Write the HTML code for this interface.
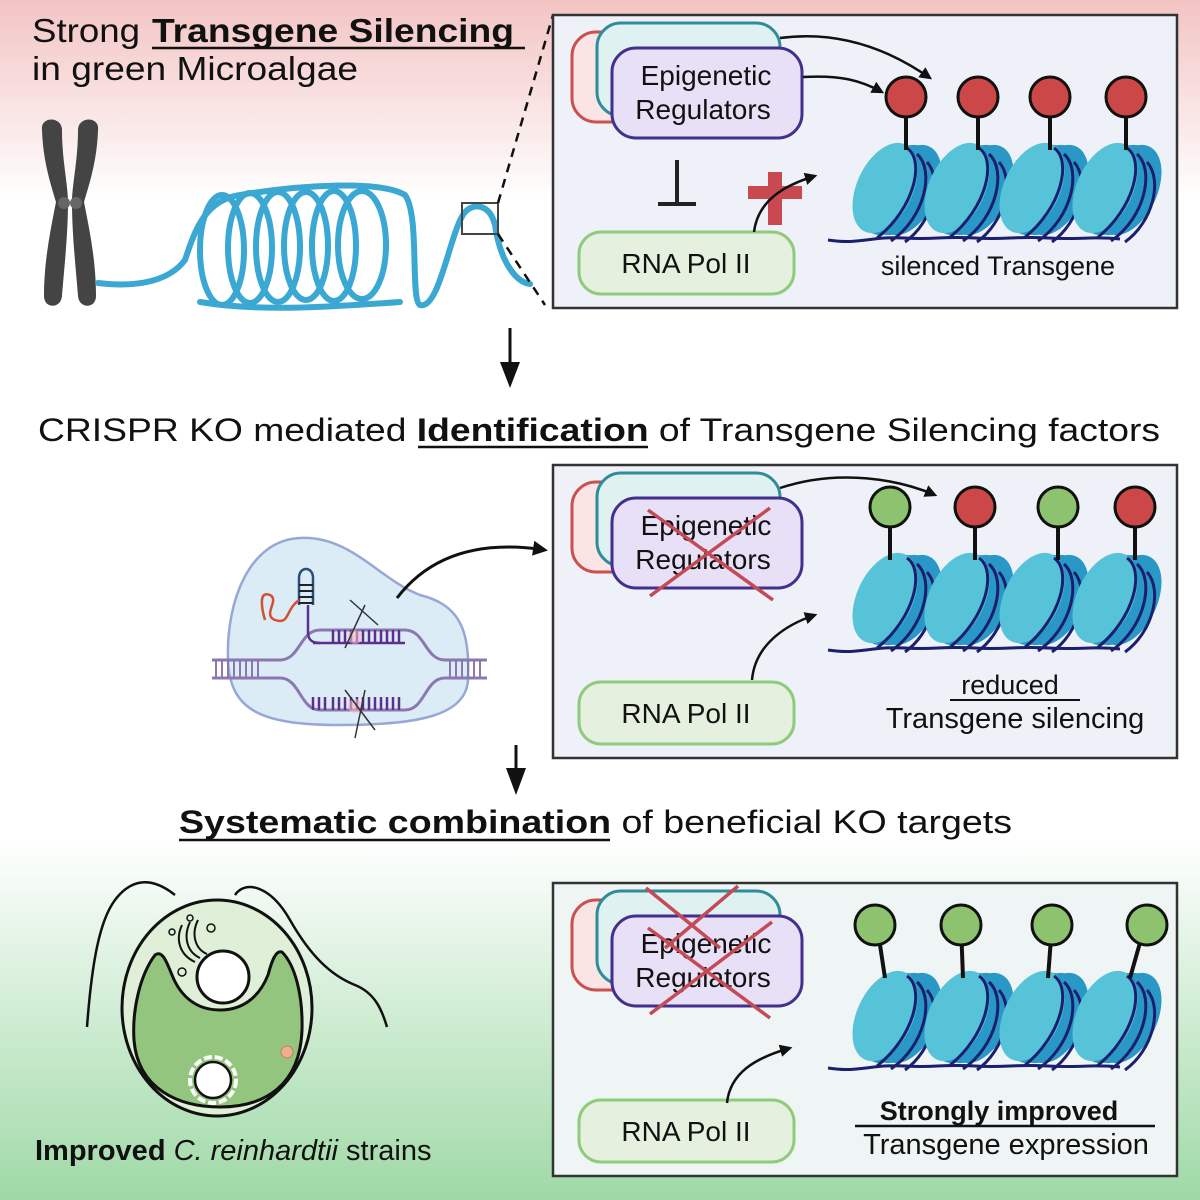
<!DOCTYPE html>
<html><head><meta charset="utf-8"><style>
html,body{margin:0;padding:0;}
svg{display:block;}
text{font-family:"Liberation Sans",sans-serif;fill:#111;}
</style></head><body>
<svg width="1200" height="1200" viewBox="0 0 1200 1200" xmlns="http://www.w3.org/2000/svg">
<defs>
<linearGradient id="gtop" x1="0" y1="0" x2="0" y2="1">
<stop offset="0" stop-color="#f3c4c4"/><stop offset="1" stop-color="#ffffff"/></linearGradient>
<linearGradient id="gbot" x1="0" y1="0" x2="0" y2="1">
<stop offset="0" stop-color="#ffffff"/><stop offset="1" stop-color="#9fd9a6"/></linearGradient>
<marker id="ah" viewBox="0 0 10 10" refX="8" refY="5" markerWidth="5" markerHeight="5" orient="auto"><path d="M0,0 L10,5 L0,10 z" fill="#111"/></marker>
<g id="nuc">
<ellipse cx="24" cy="2" rx="28" ry="48" transform="rotate(25 24 2)" fill="#2a98c6"/>
<ellipse cx="16" cy="2" rx="28" ry="48" transform="rotate(25 16 2)" fill="#2a98c6"/>
<ellipse cx="8" cy="2" rx="28" ry="48" transform="rotate(25 8 2)" fill="#2a98c6"/>
<ellipse cx="0" cy="0" rx="28" ry="48" transform="rotate(25)" fill="#56c3d9"/>
<path d="M22,-40 C40,-28 30,20 -8,50" stroke="#1c1f6e" stroke-width="3" fill="none"/>
<path d="M32,-34 C50,-18 40,30 6,53" stroke="#1c1f6e" stroke-width="3" fill="none"/>
<path d="M42,-26 C58,-8 48,34 20,54" stroke="#1c1f6e" stroke-width="3" fill="none"/>
</g>
<g id="regs">
<rect x="572" y="32" width="120" height="90" rx="24" fill="#fbe4e4" stroke="#c9504f" stroke-width="3"/>
<rect x="597" y="23" width="183" height="93" rx="24" fill="#dff1f1" stroke="#2f8d9a" stroke-width="3"/>
<rect x="612" y="48" width="190" height="90" rx="24" fill="#e7e0f6" stroke="#43308d" stroke-width="3"/>
<text x="706" y="85" font-size="28" text-anchor="middle">Epigenetic</text>
<text x="703" y="119" font-size="28" text-anchor="middle">Regulators</text>
</g>
<g id="pol">
<rect x="579" y="232" width="215" height="62" rx="22" fill="#e6f0de" stroke="#8fcb7c" stroke-width="3"/>
<text x="686" y="273" font-size="28" text-anchor="middle">RNA Pol II</text>
</g>
<g id="chrom">
<path d="M828,240 C860,245 870,236 905,238 C935,240 940,236 975,238 C1005,240 1015,236 1048,238 C1080,240 1090,236 1120,239" stroke="#1c1f6e" stroke-width="3" fill="none"/>
<use href="#nuc" x="885" y="188"/>
<use href="#nuc" x="957" y="188"/>
<use href="#nuc" x="1032" y="188"/>
<use href="#nuc" x="1105" y="188"/>
</g>
</defs>

<rect x="0" y="0" width="1200" height="1200" fill="#fff"/>
<rect x="0" y="0" width="1200" height="200" fill="url(#gtop)"/>
<rect x="0" y="840" width="1200" height="360" fill="url(#gbot)"/>

<text x="32" y="42" font-size="33" textLength="108" lengthAdjust="spacingAndGlyphs">Strong</text>
<text x="152" y="42" font-size="33" font-weight="bold" textLength="362" lengthAdjust="spacingAndGlyphs">Transgene Silencing</text>
<line x1="152" y1="48" x2="525" y2="48" stroke="#111" stroke-width="2.5"/>
<text x="32" y="80" font-size="33" textLength="326" lengthAdjust="spacingAndGlyphs">in green Microalgae</text>

<g fill="#444">
<path d="M42,130 C40,116 62,116 62,130 C62,160 68,185 68,202 C68,235 64,270 62,296 C61,309 44,309 44,296 C44,262 50,232 56,202 C50,182 43,160 42,130 z"/>
<path d="M98,130 C100,116 78,116 78,130 C78,160 72,185 72,202 C72,235 76,270 78,296 C79,309 96,309 96,296 C96,262 90,232 84,202 C90,182 97,160 98,130 z"/>
</g>
<circle cx="64" cy="203" r="6" fill="#666"/><circle cx="76" cy="203" r="6" fill="#666"/>

<g fill="none" stroke="#3aa8d2" stroke-width="6" stroke-linecap="round">
<path d="M98,283 C140,288 170,280 185,260 C195,230 205,200 240,195 C300,185 380,180 405,195 C420,215 410,300 420,305 C440,310 450,230 465,212 C475,202 490,205 495,225 C500,260 515,282 530,284"/>
<ellipse cx="222" cy="250" rx="22" ry="55"/>
<ellipse cx="250" cy="248" rx="22" ry="55"/>
<ellipse cx="278" cy="247" rx="22" ry="55"/>
<ellipse cx="306" cy="246" rx="22" ry="54"/>
<ellipse cx="334" cy="246" rx="22" ry="55"/>
<ellipse cx="362" cy="245" rx="24" ry="54"/>
<path d="M200,302 C260,312 330,307 400,302"/>
</g>
<rect x="462" y="203" width="36" height="31" fill="none" stroke="#444" stroke-width="2"/>
<line x1="498" y1="203" x2="553" y2="15" stroke="#111" stroke-width="2.5" stroke-dasharray="9 7"/>
<line x1="498" y1="234" x2="545" y2="305" stroke="#111" stroke-width="2.5" stroke-dasharray="9 7"/>

<!-- Box 1 -->
<rect x="553" y="15" width="624" height="293" fill="#eef1f7" stroke="#333" stroke-width="2.5"/>
<use href="#regs"/>
<use href="#pol"/>
<use href="#chrom"/>
<g stroke="#111" stroke-width="4">
<line x1="906" y1="97" x2="906" y2="150"/><line x1="978" y1="97" x2="978" y2="150"/>
<line x1="1050" y1="97" x2="1050" y2="150"/><line x1="1126" y1="97" x2="1126" y2="150"/></g>
<circle cx="906" cy="97" r="20" fill="#cc4848" stroke="#111" stroke-width="3"/>
<circle cx="978" cy="97" r="20" fill="#cc4848" stroke="#111" stroke-width="3"/>
<circle cx="1050" cy="97" r="20" fill="#cc4848" stroke="#111" stroke-width="3"/>
<circle cx="1126" cy="97" r="20" fill="#cc4848" stroke="#111" stroke-width="3"/>
<path d="M780,38 C840,30 890,50 930,78" stroke="#111" stroke-width="2.5" fill="none" marker-end="url(#ah)"/>
<path d="M803,77 C840,75 860,80 882,92" stroke="#111" stroke-width="2.5" fill="none" marker-end="url(#ah)"/>
<line x1="677" y1="160" x2="677" y2="204" stroke="#222" stroke-width="4"/>
<line x1="658" y1="204" x2="696" y2="204" stroke="#222" stroke-width="4"/>
<path d="M768,172 h14 v14 h20 v13 h-20 v26 h-14 v-26 h-20 v-13 h20 z" fill="#c84a50"/>
<path d="M754,232 C758,200 785,185 815,176" stroke="#111" stroke-width="2.5" fill="none" marker-end="url(#ah)"/>
<text x="998" y="275" font-size="27" text-anchor="middle">silenced Transgene</text>

<line x1="510" y1="328" x2="510" y2="365" stroke="#111" stroke-width="3"/>
<path d="M500,362 L520,362 L510,388 z" fill="#111"/>

<text x="38" y="441" font-size="32" textLength="1122" lengthAdjust="spacingAndGlyphs">CRISPR KO mediated <tspan font-weight="bold">Identification</tspan> of Transgene Silencing factors</text>
<line x1="418" y1="447" x2="648" y2="447" stroke="#111" stroke-width="2.5"/>

<!-- CRISPR blob -->
<path d="M300,538 C350,535 380,580 420,595 C460,605 470,630 468,680 C466,715 420,725 340,725 C260,725 230,710 228,660 C226,600 250,540 300,538 z" fill="#dcecf7" stroke="#97a8d6" stroke-width="2.5"/>
<g fill="none" stroke="#8c78b0" stroke-width="3">
<path d="M212,660 H280 C300,660 300,630 320,630 H405 C425,630 425,660 445,660 H487"/>
<path d="M212,678 H280 C300,678 300,710 320,710 H405 C425,710 425,678 445,678 H487"/>
</g>
<g stroke="#8c78b0" stroke-width="2">
<path d="M216,660v18M222,660v18M228,660v18M234,660v18M240,660v18M246,660v18M252,660v18M258,660v18M450,660v18M456,660v18M462,660v18M468,660v18M474,660v18M480,660v18"/>
</g>
<g stroke="#5c2f8c" stroke-width="2.5">
<path d="M313,643 H405" fill="none"/>
<path d="M333,630v13M339,630v13M345,630v13M351,630v13M357,630v13M363,630v13M369,630v13M375,630v13M381,630v13M387,630v13M393,630v13M399,630v13"/>
<path d="M313,710v-13M319,710v-13M325,710v-13M333,710v-13M339,710v-13M345,710v-13M351,710v-13M357,710v-13M363,710v-13M369,710v-13M375,710v-13M381,710v-13M387,710v-13M393,710v-13M399,710v-13"/>
<path d="M308,605 V632 C308,640 312,643 320,643" fill="none"/>
</g>
<path d="M299,605 V578 C299,566 313,566 313,578 V605" fill="none" stroke="#2c4f7a" stroke-width="2.5"/>
<path d="M299,585h14M299,591h14M299,597h14M299,603h14" stroke="#222" stroke-width="2"/>
<path d="M299,600 C285,610 290,625 275,620 C262,615 280,600 270,595 C258,590 262,610 265,620" fill="none" stroke="#d2502e" stroke-width="2.5"/>
<circle cx="355" cy="637" r="7" fill="#f2b9c6" opacity="0.6"/>
<circle cx="355" cy="706" r="7" fill="#f2b9c6" opacity="0.6"/>
<path d="M345,648 L365,605 M350,600 L378,625" stroke="#333" stroke-width="1.5"/>
<path d="M345,690 L375,730 M365,690 L355,738" stroke="#333" stroke-width="1.5"/>
<path d="M397,598 C430,555 480,540 545,550" stroke="#111" stroke-width="3" fill="none" marker-end="url(#ah)"/>

<!-- Box 2 -->
<g transform="translate(0,450)">
<rect x="553" y="15" width="624" height="293" fill="#eef1f7" stroke="#333" stroke-width="2.5"/>
<use href="#regs"/>
<use href="#pol"/>
<g transform="translate(0,-40)"><use href="#chrom"/>
<g stroke="#111" stroke-width="4">
<line x1="890" y1="97" x2="890" y2="150"/><line x1="975" y1="97" x2="975" y2="150"/>
<line x1="1058" y1="97" x2="1058" y2="150"/><line x1="1135" y1="97" x2="1135" y2="150"/></g>
<circle cx="890" cy="97" r="20" fill="#8dc36f" stroke="#111" stroke-width="3"/>
<circle cx="975" cy="97" r="20" fill="#cc4848" stroke="#111" stroke-width="3"/>
<circle cx="1058" cy="97" r="20" fill="#8dc36f" stroke="#111" stroke-width="3"/>
<circle cx="1135" cy="97" r="20" fill="#cc4848" stroke="#111" stroke-width="3"/>
</g>
<path d="M648,60 L773,150 M770,58 L650,146" stroke="#c44a55" stroke-width="3.5"/>
<path d="M780,38 C840,18 900,30 935,45" stroke="#111" stroke-width="2.5" fill="none" marker-end="url(#ah)"/>
<path d="M752,230 C755,195 785,175 815,165" stroke="#111" stroke-width="2.5" fill="none" marker-end="url(#ah)"/>
<text x="1010" y="244" font-size="27" text-anchor="middle">reduced</text>
<line x1="950" y1="250" x2="1080" y2="250" stroke="#111" stroke-width="2"/>
<text x="1015" y="278" font-size="29" text-anchor="middle">Transgene silencing</text>
</g>

<line x1="516" y1="745" x2="516" y2="772" stroke="#111" stroke-width="3"/>
<path d="M506,768 L526,768 L516,795 z" fill="#111"/>

<text x="179" y="833" font-size="32" textLength="833" lengthAdjust="spacingAndGlyphs"><tspan font-weight="bold">Systematic combination</tspan> of beneficial KO targets</text>
<line x1="179" y1="840" x2="610" y2="840" stroke="#111" stroke-width="2.5"/>

<!-- cell -->
<path d="M87,1027 C92,960 100,920 115,900 C130,880 150,875 175,895" fill="none" stroke="#111" stroke-width="2.5"/>
<path d="M235,895 C245,880 270,885 290,920 C310,955 330,975 355,985 C375,993 382,1010 387,1027" fill="none" stroke="#111" stroke-width="2.5"/>
<ellipse cx="217" cy="1008" rx="95" ry="108" fill="#e0f0d8" stroke="#111" stroke-width="3"/>
<path d="M155,955 C140,975 132,1010 134,1040 C138,1090 180,1107 220,1107 C265,1107 300,1085 302,1030 C303,995 295,965 282,952 C276,950 272,960 268,975 C258,1000 240,1010 220,1010 C195,1010 180,995 172,975 C166,960 162,950 155,955 z" fill="#94c57e" stroke="#111" stroke-width="3"/>
<circle cx="223" cy="977" r="26" fill="#fff" stroke="#111" stroke-width="3"/>
<circle cx="213" cy="1080" r="18" fill="#fff" stroke="#111" stroke-width="2.5"/>
<circle cx="213" cy="1080" r="23" fill="none" stroke="#fff" stroke-width="4" stroke-dasharray="8 3"/>
<circle cx="287" cy="1052" r="6" fill="#f0b090" stroke="#c08060"/>
<path d="M182,925 C175,940 180,955 195,962 M190,922 C183,937 187,952 200,958 M198,920 C191,934 195,949 207,954" fill="none" stroke="#111" stroke-width="2"/>
<circle cx="172" cy="932" r="3" fill="none" stroke="#111" stroke-width="1.5"/>
<circle cx="190" cy="918" r="3" fill="none" stroke="#111" stroke-width="1.5"/>
<circle cx="211" cy="928" r="4" fill="none" stroke="#111" stroke-width="1.5"/>
<circle cx="182" cy="972" r="4" fill="none" stroke="#111" stroke-width="1.5"/>

<text x="35" y="1160" font-size="29"><tspan font-weight="bold">Improved</tspan> <tspan font-style="italic">C. reinhardtii</tspan> strains</text>

<!-- Box 3 -->
<g transform="translate(0,868)">
<rect x="553" y="15" width="624" height="293" fill="#eef5f4" stroke="#333" stroke-width="2.5"/>
<use href="#regs"/>
<use href="#pol"/>
<g transform="translate(0,-40)"><use href="#chrom"/>
<g stroke="#111" stroke-width="4">
<line x1="877" y1="97" x2="885" y2="150"/><line x1="961" y1="97" x2="963" y2="150"/>
<line x1="1052" y1="97" x2="1048" y2="150"/><line x1="1145" y1="97" x2="1130" y2="150"/></g>
<circle cx="875" cy="97" r="20" fill="#8dc36f" stroke="#111" stroke-width="3"/>
<circle cx="961" cy="97" r="20" fill="#8dc36f" stroke="#111" stroke-width="3"/>
<circle cx="1052" cy="97" r="20" fill="#8dc36f" stroke="#111" stroke-width="3"/>
<circle cx="1147" cy="97" r="20" fill="#8dc36f" stroke="#111" stroke-width="3"/>
</g>
<path d="M648,60 L770,150 M772,54 L650,146 M646,20 L720,80 M738,18 L665,80" stroke="#c44a55" stroke-width="3.5"/>
<path d="M727,235 C730,205 755,190 790,180" stroke="#111" stroke-width="2.5" fill="none" marker-end="url(#ah)"/>
<text x="999" y="252" font-size="27" font-weight="bold" text-anchor="middle">Strongly improved</text>
<line x1="855" y1="258" x2="1155" y2="258" stroke="#111" stroke-width="2.5"/>
<text x="1006" y="286" font-size="29" text-anchor="middle">Transgene expression</text>
</g>
</svg>
</body></html>
